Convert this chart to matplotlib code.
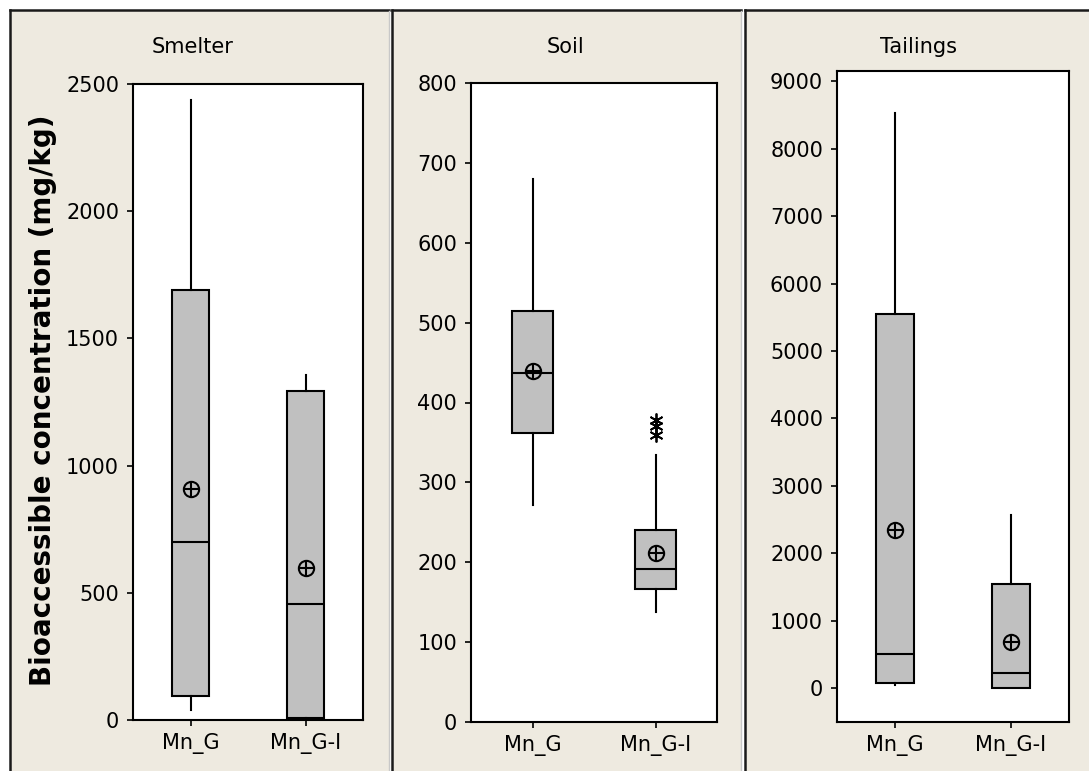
import matplotlib
matplotlib.use("Agg")
import matplotlib.pyplot as plt
from matplotlib.patches import Rectangle
from matplotlib.lines import Line2D

# ---------------- data ----------------
groups = ["Mn_G", "Mn_G-I"]
panel_titles = ["Smelter", "Soil", "Tailings"]

smelter_min = [39, 5]
smelter_q1 = [94, 9]
smelter_median = [698, 455]
smelter_q3 = [1690, 1294]
smelter_max = [2437, 1356]
smelter_mean = [907, 599]
smelter_outliers = [[], []]

soil_min = [272, 138]
soil_q1 = [362, 167]
soil_median = [437, 192]
soil_q3 = [515, 240]
soil_max = [680, 334]
soil_mean = [440, 211]
soil_outliers = [[], [378, 370, 359]]

tailings_min = [44, 0]
tailings_q1 = [84, 0]
tailings_median = [504, 232]
tailings_q3 = [5546, 1542]
tailings_max = [8531, 2575]
tailings_mean = [2343, 687]
tailings_outliers = [[], []]

smelter_ticks = [0, 500, 1000, 1500, 2000, 2500]
soil_ticks = [0, 100, 200, 300, 400, 500, 600, 700, 800]
tailings_ticks = [0, 1000, 2000, 3000, 4000, 5000, 6000, 7000, 8000, 9000]

y_label = "Bioaccessible concentration (mg/kg)"

# ---------------- layout ----------------
W, H = 1089, 771
plt.rcParams['font.family'] = ['DejaVu Sans']
fig = plt.figure(figsize=(W / 100, H / 100), dpi=100)
fig.patch.set_facecolor("white")

BEIGE = "#EEEAE0"

def fx(px):
    return px / W

def fy(py):
    return 1 - py / H

# panel backgrounds (pixel extents)
panels_px = [(10, 389), (392, 741), (745, 1095)]
for (x0, x1) in panels_px:
    r = Rectangle((fx(x0), 0), fx(x1) - fx(x0), fy(10), transform=fig.transFigure,
                  facecolor=BEIGE, edgecolor="none", zorder=-2)
    fig.add_artist(r)
    fig.add_artist(Line2D([fx(x0), fx(x1)], [fy(10), fy(10)], transform=fig.transFigure,
                          color="#1a1a1a", lw=1.8, zorder=-1))
    fig.add_artist(Line2D([fx(x0), fx(x0)], [0, fy(10)], transform=fig.transFigure,
                          color="#1a1a1a", lw=1.8, zorder=-1))
    fig.add_artist(Line2D([fx(x1), fx(x1)], [0, fy(11)], transform=fig.transFigure,
                          color="#c8c8c8", lw=1.0, zorder=-1))

axes_px = [(133, 363, 84, 720), (471, 717, 83, 722), (837, 1069, 71, 722)]
ylims = [(0, 2500), (0, 800), (-500, 9150)]
title_pos = [193, 566, 918]

datasets = [
    (smelter_min, smelter_q1, smelter_median, smelter_q3, smelter_max, smelter_mean, smelter_outliers, smelter_ticks),
    (soil_min, soil_q1, soil_median, soil_q3, soil_max, soil_mean, soil_outliers, soil_ticks),
    (tailings_min, tailings_q1, tailings_median, tailings_q3, tailings_max, tailings_mean, tailings_outliers, tailings_ticks),
]

FS = 15
LW = 1.5
positions = [1, 2]
for i, (mn, q1, med, q3, mx, mean, outl, ticks) in enumerate(datasets):
    x0, x1, y0, y1 = axes_px[i]
    ax = fig.add_axes([fx(x0), fy(y1), fx(x1) - fx(x0), fy(y0) - fy(y1)])
    ax.set_facecolor("white")
    stats = []
    for j, g in enumerate(groups):
        stats.append(dict(label=g, whislo=mn[j], q1=q1[j], med=med[j], q3=q3[j],
                          whishi=mx[j], mean=mean[j], fliers=outl[j]))
    ax.bxp(stats, positions=positions, widths=0.33, patch_artist=True,
           showmeans=True, showcaps=False, showfliers=True,
           boxprops=dict(facecolor="#C0C0C0", edgecolor="black", linewidth=LW),
           medianprops=dict(color="black", linewidth=LW),
           whiskerprops=dict(color="black", linewidth=LW),
           meanprops=dict(marker="o", markerfacecolor="none", markeredgecolor="black",
                          markersize=11, markeredgewidth=1.5),
           flierprops=dict(marker=(6, 2, 0), markeredgecolor="black", markersize=10,
                           markeredgewidth=1.3, linestyle="none"))
    ax.plot(positions, mean, linestyle="none", marker="+", color="black",
            markersize=11, markeredgewidth=1.5, zorder=5)
    ax.set_xlim(0.5, 2.5)
    ax.set_ylim(*ylims[i])
    ax.set_yticks(ticks)
    ax.set_yticklabels([str(t) for t in ticks])
    ax.set_xticks(positions)
    ax.set_xticklabels(groups)
    ax.tick_params(axis="both", labelsize=FS, length=4, width=1.2, color="black")
    ax.tick_params(axis="y", pad=6)
    ax.tick_params(axis="x", pad=5)
    for s in ax.spines.values():
        s.set_linewidth(1.5)
        s.set_color("black")
    fig.text(fx(title_pos[i]), fy(53), panel_titles[i], ha="center", va="baseline",
             fontsize=FS)

fig.text(fx(43), fy(400), y_label, rotation=90, ha="center", va="center",
         fontsize=20, fontweight="bold")

fig.savefig("out.png", dpi=100, facecolor="white")
